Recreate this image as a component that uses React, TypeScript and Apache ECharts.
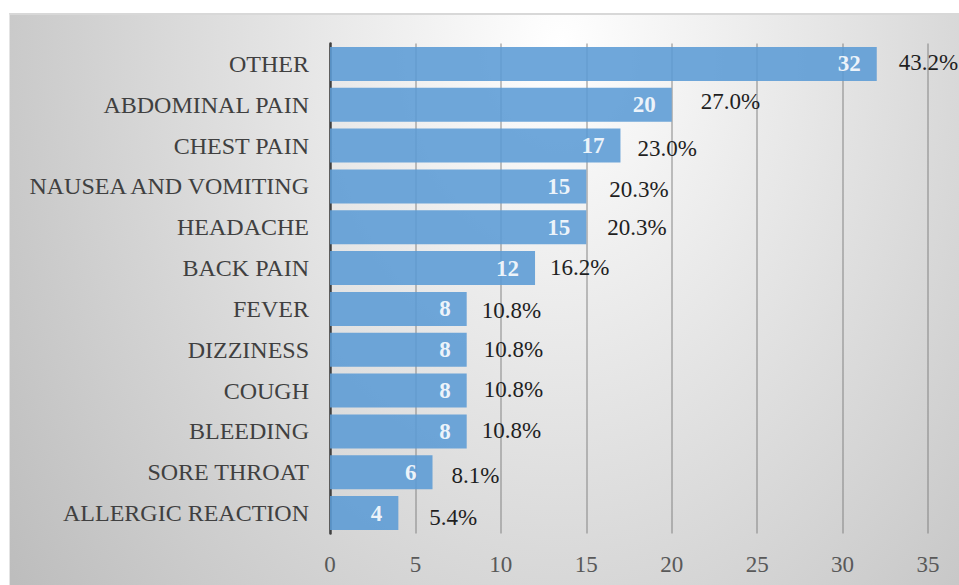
import React, { useEffect, useRef } from "react";
import * as echarts from "echarts";

// Chief complaints, counts and share of all visits
const categories = [
  "OTHER",
  "ABDOMINAL PAIN",
  "CHEST PAIN",
  "NAUSEA AND VOMITING",
  "HEADACHE",
  "BACK PAIN",
  "FEVER",
  "DIZZINESS",
  "COUGH",
  "BLEEDING",
  "SORE THROAT",
  "ALLERGIC REACTION",
];
const counts = [32, 20, 17, 15, 15, 12, 8, 8, 8, 8, 6, 4];
const percentLabels = [
  "43.2%", "27.0%", "23.0%", "20.3%", "20.3%", "16.2%",
  "10.8%", "10.8%", "10.8%", "10.8%", "8.1%", "5.4%",
];
const xTicks = { min: 0, max: 35, interval: 5 };

// Hand-placed nudges for the percentage labels (px right, px down)
const pctLabelOffsets: [number, number][] = [
  [22, -1], [29, -3], [17, 3], [23, 3], [21, 0], [15, -1],
  [15, 2], [17, 0], [17, -1], [15, -1], [19, 3], [31, 4],
];

const SERIF = "Liberation Serif, serif";

export default function App() {
  const ref = useRef<HTMLDivElement>(null);

  useEffect(() => {
    if (!ref.current) return;
    const chart = echarts.init(ref.current, undefined, { renderer: "svg" });
    chart.setOption({
      animation: false,
      backgroundColor: "transparent",
      textStyle: { fontFamily: SERIF },
      grid: { left: 330, right: 31, top: 43.5, bottom: 51.5, containLabel: false },
      xAxis: {
        type: "value",
        min: xTicks.min,
        max: xTicks.max,
        interval: xTicks.interval,
        axisLine: { show: false },
        axisTick: { show: false },
        splitLine: { show: true, lineStyle: { color: "rgba(120,120,120,0.6)", width: 1.5 } },
        axisLabel: { fontFamily: SERIF, fontSize: 23, color: "#595959", margin: 19 },
      },
      yAxis: {
        type: "category",
        inverse: true,
        data: categories,
        axisLine: { show: true, lineStyle: { color: "#404040", width: 2.5 } },
        axisTick: { show: false },
        axisLabel: { fontFamily: SERIF, fontSize: 24, color: "#404040", margin: 21 },
      },
      series: [
        {
          type: "bar",
          data: counts,
          barWidth: 34,
          z: 3,
          itemStyle: { color: "#5B9BD5", opacity: 0.88 },
          label: {
            show: true,
            position: "insideRight",
            distance: 16,
            color: "#ffffff",
            fontFamily: SERIF,
            fontWeight: "bold",
            fontSize: 23,
          },
        },
        {
          type: "bar",
          barWidth: 34,
          barGap: "-100%",
          silent: true,
          z: 2,
          itemStyle: { color: "transparent" },
          data: counts.map((v, i) => ({
            value: v,
            label: { offset: pctLabelOffsets[i] },
          })),
          label: {
            show: true,
            position: "right",
            distance: 0,
            color: "#1f1f1f",
            fontFamily: SERIF,
            fontSize: 23,
            formatter: (p: any) => percentLabels[p.dataIndex],
          },
        },
      ],
    });
    return () => chart.dispose();
  }, []);

  return (
    <div
      style={{
        position: "absolute",
        left: 0,
        top: 0,
        width: 959,
        height: 585,
        overflow: "hidden",
        background: "#ffffff",
      }}
    >
      <div
        style={{
          position: "absolute",
          left: 9,
          top: 13,
          width: 960,
          height: 580,
          boxSizing: "border-box",
          borderTop: "2px solid #d8d8d8",
          borderLeft: "1px solid #e4e4e4",
          background:
            "radial-gradient(ellipse 680px 900px at 550px 30px, #ffffff 0%, #bdbdbd 100%)",
        }}
      />
      <div ref={ref} style={{ position: "absolute", left: 0, top: 0, width: 959, height: 585 }} />
    </div>
  );
}
